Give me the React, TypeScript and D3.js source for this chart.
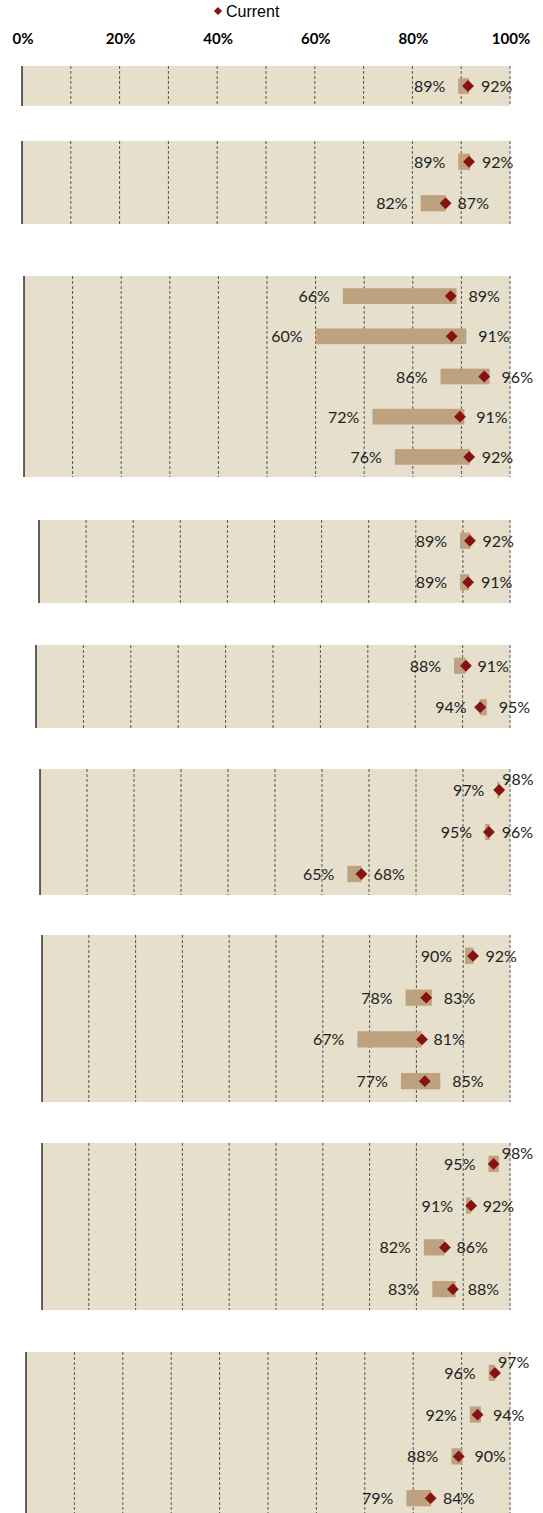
import React from 'react';
import * as d3 from 'd3';

// range low / high and current value per row, one inner list per panel
const lowValues = [
  [89.4],
  [89.4, 81.7],
  [65.6, 60.0, 85.7, 71.7, 76.3],
  [89.4, 89.4],
  [88.2, 93.6],
  [97.3, 94.7, 65.4],
  [90.4, 77.7, 67.4, 76.7],
  [95.4, 90.6, 81.6, 83.4],
  [95.6, 91.7, 87.9, 78.6],
];
const highValues = [
  [91.6],
  [91.8, 86.8],
  [89.0, 91.0, 95.8, 90.6, 91.7],
  [91.6, 91.3],
  [90.6, 95.1],
  [97.7, 95.7, 68.4],
  [92.2, 83.3, 81.1, 85.1],
  [97.6, 91.6, 86.0, 88.4],
  [96.9, 94.0, 90.2, 83.7],
];
const currentValues = [
  [91.4],
  [91.6, 86.8],
  [87.8, 88.0, 94.7, 89.7, 91.6],
  [91.5, 91.1],
  [90.7, 93.7],
  [97.7, 95.5, 68.4],
  [92.1, 82.1, 81.2, 81.8],
  [96.5, 91.7, 86.1, 87.8],
  [96.9, 93.3, 89.4, 83.6],
];
const tickValues = [0, 20, 40, 60, 80, 100];
const gridValues = [10, 20, 30, 40, 50, 60, 70, 80, 90, 100];
const legendLabel = 'Current';

// panel placement (plot areas differ slightly, like the source sheet)
const panelTops = [66, 141, 276, 520, 645, 769, 935, 1143, 1352];
const panelHeights = [40, 83, 201, 83, 83, 126, 167, 167, 167];
const panelLefts = [22, 22, 24, 39, 36, 40, 42, 42, 26];
const RIGHT = 510;

const BG = '#E5DFCC';
const BAR = '#BEA17F';
const MARK = '#861212';
const GRID = '#555';
const LABEL_FONT = 'Lato, "Open Sans", sans-serif';

const diamond = d3.symbol(d3.symbolSquare, 70)();
const fmt = (v: number) => `${Math.round(v)}%`;

function Panel({ idx }: { idx: number }) {
  const top = panelTops[idx];
  const h = panelHeights[idx];
  const left = panelLefts[idx];
  const lows = lowValues[idx];
  const x = d3.scaleLinear().domain([0, 100]).range([left, RIGHT]);
  const y = d3
    .scaleBand<number>()
    .domain(d3.range(lows.length))
    .range([top, top + h])
    .paddingInner(0.61)
    .paddingOuter(0.305);

  return (
    <g>
      <rect x={left} y={top} width={RIGHT - left} height={h} fill={BG} />
      {gridValues.map((g) => (
        <line
          key={g}
          x1={x(g)}
          x2={x(g)}
          y1={top}
          y2={top + h}
          stroke={GRID}
          strokeWidth={1}
          strokeDasharray="3,2"
        />
      ))}
      <line x1={left} x2={left} y1={top} y2={top + h} stroke="#000" strokeWidth={1.2} />
      {lows.map((lo, i) => {
        const hi = highValues[idx][i];
        const cur = currentValues[idx][i];
        const cy = (y(i) as number) + y.bandwidth() / 2;
        // labels near the right edge get pushed up, as in the source
        const pushed = Math.round(hi) >= 97;
        return (
          <g key={i}>
            <rect
              x={x(lo)}
              y={y(i)}
              width={Math.max(x(hi) - x(lo), 2)}
              height={y.bandwidth()}
              fill={BAR}
            />
            <path d={diamond ?? ''} transform={`translate(${x(cur)},${cy}) rotate(45)`} fill={MARK} />
            <text
              x={x(lo) - 13}
              y={cy + 6}
              textAnchor="end"
              fontFamily={LABEL_FONT}
              fontSize={16}
              fill="#222"
            >
              {fmt(lo)}
            </text>
            <text
              x={pushed ? x(hi) + 3 : x(hi) + 12}
              y={pushed ? cy - 5 : cy + 6}
              fontFamily={LABEL_FONT}
              fontSize={16}
              fill="#222"
            >
              {fmt(hi)}
            </text>
          </g>
        );
      })}
    </g>
  );
}

export default function App() {
  const xTop = d3.scaleLinear().domain([0, 100]).range([22, RIGHT]);
  return (
    <svg
      width={543}
      height={1513}
      style={{ position: 'absolute', left: 0, top: 0, background: '#fff' }}
    >
      <path d={d3.symbol(d3.symbolSquare, 34)() ?? ''} transform="translate(218,11) rotate(45)" fill={MARK} />
      <text x={226} y={16.5} fontFamily='"Liberation Sans", Arial, sans-serif' fontSize={16} fill="#000">
        {legendLabel}
      </text>
      {tickValues.map((t) => (
        <text
          key={t}
          x={xTop(t) + 1}
          y={44}
          textAnchor="middle"
          fontFamily={LABEL_FONT}
          fontWeight="bold"
          fontSize={15}
          fill="#000"
        >
          {`${t}%`}
        </text>
      ))}
      {lowValues.map((_, i) => (
        <Panel key={i} idx={i} />
      ))}
    </svg>
  );
}
